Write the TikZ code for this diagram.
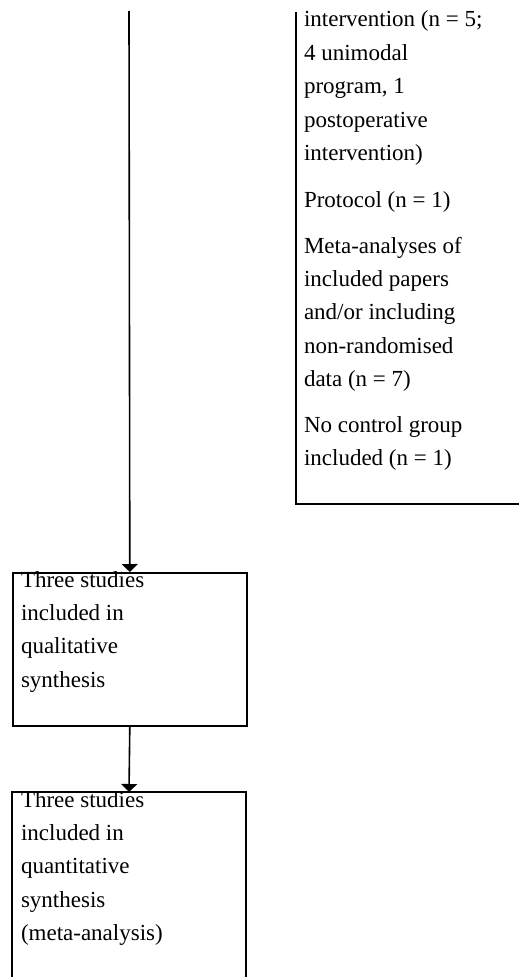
\documentclass[tikz,border=0pt]{standalone}
\usepackage{fontspec}
\setmainfont{Liberation Serif}
\usetikzlibrary{arrows.meta}
\newcommand{\txtlines}[1]{\parbox[t]{220pt}{\fontsize{23}{33.4}\selectfont\raggedright #1}}
\tikzset{
  x=1pt, y=-1pt,
  boxline/.style={draw=black, line width=1.6pt},
  flow/.style={draw=black, line width=1.6pt, -{Triangle[length=8pt,width=16pt]}},
  txt/.style={anchor=base west, inner sep=0pt, outer sep=0pt}
}
\begin{document}
\begin{tikzpicture}
\useasboundingbox (0,0) rectangle (519,977);
% main vertical line
\coordinate (mtop) at (129,11);
% right exclusion box (partial)
\coordinate (rtop) at (296,12);
\coordinate (rcorner) at (296,504);
\coordinate (rend) at (519,504);
\draw[boxline] (rtop) -- (rcorner) -- (rend);
% box 1
\node[boxline, anchor=north west, minimum width=234pt, minimum height=153pt, inner sep=0pt] (b1) at (12,572) {};
% box 2 (bottom cut off)
\coordinate (b2nw) at (12,792);
\coordinate (b2ne) at (246,792);
\coordinate (b2sw) at (12,977);
\coordinate (b2se) at (246,977);
\coordinate (b2n) at (129,792);
\draw[boxline] (b2sw) -- (b2nw) -- (b2ne) -- (b2se);
% connectors
\draw[flow] (mtop) -- (b1.north);
\draw[flow] (b1.south) -- (b2n);
% texts in right box
\node[txt] (r1) at (304,27) {\txtlines{intervention (n = 5;\\4 unimodal\\program, 1\\postoperative\\intervention)}};
\node[txt] (r2) at (304,207) {\txtlines{Protocol (n = 1)}};
\node[txt] (r3) at (304,253) {\txtlines{Meta-analyses of\\included papers\\and/or including\\non-randomised\\data (n = 7)}};
\node[txt] (r4) at (304,432) {\txtlines{No control group\\included (n = 1)}};
% texts in boxes
\node[txt] (t1) at (21,587) {\txtlines{Three studies\\included in\\qualitative\\synthesis}};
\node[txt] (t2) at (21,807) {\txtlines{Three studies\\included in\\quantitative\\synthesis\\(meta-analysis)}};
\end{tikzpicture}
\end{document}
